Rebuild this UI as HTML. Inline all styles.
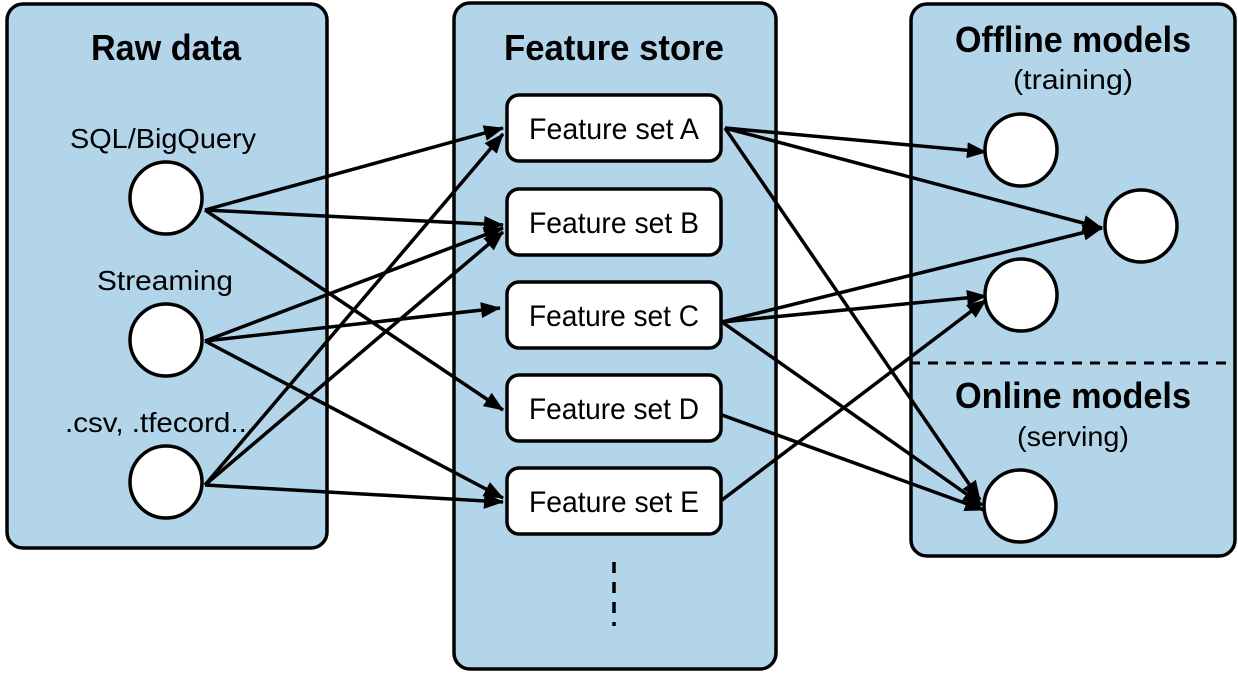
<!DOCTYPE html>
<html><head><meta charset="utf-8"><style>
html,body{margin:0;padding:0;background:#fff;}
svg text{font-family:"Liberation Sans",sans-serif;fill:#000;}
</style></head><body>
<svg width="1238" height="672" viewBox="0 0 1238 672" xmlns="http://www.w3.org/2000/svg">
<defs><marker id="a" markerWidth="10" markerHeight="8" refX="9" refY="4" orient="auto" markerUnits="userSpaceOnUse" viewBox="0 0 10 8"><path d="M0,0 L10,4 L0,8 Z" fill="#000"/></marker>
<marker id="b" viewBox="0 0 20 16" refX="19" refY="8" markerWidth="20" markerHeight="16" orient="auto" markerUnits="userSpaceOnUse"><path d="M0,0 L20,8 L0,16 Z" fill="#000"/></marker></defs>
<g fill="#b3d5ea" stroke="#000" stroke-width="3.5">
<rect x="7" y="4" width="320" height="544" rx="16"/>
<rect x="454" y="3" width="322" height="666" rx="16"/>
<rect x="911" y="4" width="324" height="552" rx="16"/>
</g>
<g font-weight="bold" font-size="36" text-anchor="middle">
<text x="166" y="60" textLength="150" lengthAdjust="spacingAndGlyphs">Raw data</text>
<text x="614" y="60" textLength="220" lengthAdjust="spacingAndGlyphs">Feature store</text>
<text x="1073" y="52" textLength="236" lengthAdjust="spacingAndGlyphs">Offline models</text>
<text x="1073" y="408" textLength="236" lengthAdjust="spacingAndGlyphs">Online models</text>
</g>
<g font-size="28" text-anchor="middle">
<text x="1073" y="89" textLength="120" lengthAdjust="spacingAndGlyphs">(training)</text>
<text x="1073" y="446" textLength="112" lengthAdjust="spacingAndGlyphs">(serving)</text>
<text x="163" y="148" textLength="186" lengthAdjust="spacingAndGlyphs">SQL/BigQuery</text>
<text x="165" y="290" textLength="136" lengthAdjust="spacingAndGlyphs">Streaming</text>
<text x="160" y="432" textLength="190" lengthAdjust="spacingAndGlyphs">.csv, .tfecord...</text>
</g>
<line x1="910" y1="363" x2="1236" y2="363" stroke="#000" stroke-width="3" stroke-dasharray="10,8"/>
<line x1="614" y1="562" x2="614" y2="626" stroke="#000" stroke-width="3.5" stroke-dasharray="11,9"/>
<g stroke="#000" stroke-width="3.5" marker-end="url(#b)" fill="none">
<line x1="205" y1="210" x2="503" y2="128"/>
<line x1="205" y1="210" x2="503" y2="225"/>
<line x1="205" y1="210" x2="503" y2="410"/>
<line x1="205" y1="341" x2="503" y2="228"/>
<line x1="205" y1="341" x2="500" y2="308"/>
<line x1="205" y1="341" x2="503" y2="498"/>
<line x1="205" y1="485" x2="503" y2="134"/>
<line x1="205" y1="485" x2="503" y2="232"/>
<line x1="205" y1="485" x2="503" y2="502"/>
<line x1="725" y1="128" x2="986" y2="152"/>
<line x1="725" y1="128" x2="1102" y2="228"/>
<line x1="725" y1="128" x2="980" y2="500"/>
<line x1="722" y1="322" x2="1102" y2="228"/>
<line x1="722" y1="322" x2="986" y2="296"/>
<line x1="722" y1="322" x2="982" y2="505"/>
<line x1="722" y1="415" x2="984" y2="510"/>
<line x1="722" y1="500" x2="986" y2="300"/>
</g>
<g fill="#fff" stroke="#000" stroke-width="3.5">
<circle cx="166" cy="198" r="36"/><circle cx="166" cy="340" r="36"/><circle cx="166" cy="482" r="36"/>
<circle cx="1021" cy="150" r="36"/><circle cx="1141" cy="226" r="36"/><circle cx="1021" cy="295" r="36"/><circle cx="1020" cy="506" r="36"/>
<rect x="507" y="95" width="214" height="66" rx="12"/>
<rect x="507" y="189" width="214" height="66" rx="12"/>
<rect x="507" y="282" width="214" height="66" rx="12"/>
<rect x="507" y="375" width="214" height="66" rx="12"/>
<rect x="507" y="468" width="214" height="66" rx="12"/>
</g>
<g font-size="30" text-anchor="middle">
<text x="614" y="139" textLength="170" lengthAdjust="spacingAndGlyphs">Feature set A</text>
<text x="614" y="233" textLength="170" lengthAdjust="spacingAndGlyphs">Feature set B</text>
<text x="614" y="326" textLength="170" lengthAdjust="spacingAndGlyphs">Feature set C</text>
<text x="614" y="419" textLength="170" lengthAdjust="spacingAndGlyphs">Feature set D</text>
<text x="614" y="512" textLength="170" lengthAdjust="spacingAndGlyphs">Feature set E</text>
</g>
</svg>
</body></html>
